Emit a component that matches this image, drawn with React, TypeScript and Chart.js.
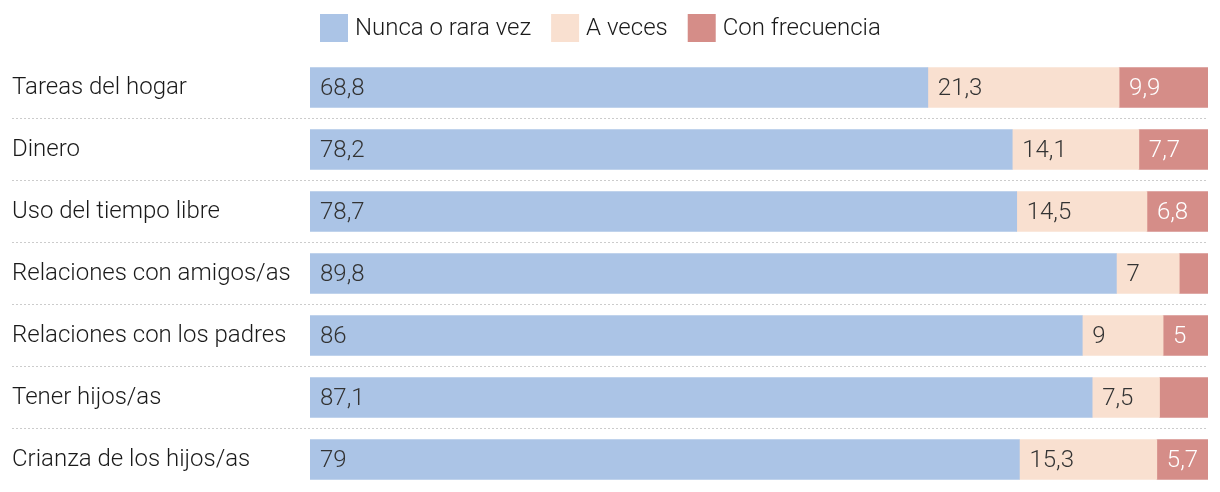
import React, { useEffect, useRef } from "react";
import { Chart, registerables } from "chart.js";

Chart.register(...registerables);

const categories = [
  "Tareas del hogar",
  "Dinero",
  "Uso del tiempo libre",
  "Relaciones con amigos/as",
  "Relaciones con los padres",
  "Tener hijos/as",
  "Crianza de los hijos/as",
];
const seriesNames = ["Nunca o rara vez", "A veces", "Con frecuencia"];
const nunca = [68.8, 78.2, 78.7, 89.8, 86, 87.1, 79];
const aVeces = [21.3, 14.1, 14.5, 7, 9, 7.5, 15.3];
const conFrecuencia = [9.9, 7.7, 6.8, 3.2, 5, 5.4, 5.7];
const frecuenciaLabelShown = [true, true, true, false, true, false, true];

const COLORS = ["#abc4e6", "#f9e0d0", "#d58d88"];
const LABEL_COLORS = ["#333333", "#333333", "#ffffff"];
const FONT = "Roboto";
const FONT_SIZE = 24;
const FONT_WEIGHT = "300";

const fmt = (v: number) => String(v).replace(".", ",");

const separatorPlugin = {
  id: "separators",
  beforeDatasetsDraw(chart: any) {
    const ctx = chart.ctx;
    const y = chart.scales.y;
    const area = chart.chartArea;
    ctx.save();
    ctx.strokeStyle = "#cccccc";
    ctx.lineWidth = 1;
    ctx.setLineDash([2, 2]);
    for (let i = 0; i < categories.length - 1; i++) {
      const yy = Math.floor((y.getPixelForValue(i) + y.getPixelForValue(i + 1)) / 2) + 0.5;
      ctx.beginPath();
      ctx.moveTo(12, yy);
      ctx.lineTo(area.right, yy);
      ctx.stroke();
    }
    ctx.restore();
  },
};

const valueLabelPlugin = {
  id: "valueLabels",
  afterDatasetsDraw(chart: any) {
    const ctx = chart.ctx;
    ctx.save();
    ctx.font = `${FONT_WEIGHT} ${FONT_SIZE}px ${FONT}`;
    ctx.textBaseline = "middle";
    ctx.textAlign = "left";
    chart.data.datasets.forEach((ds: any, di: number) => {
      const meta = chart.getDatasetMeta(di);
      meta.data.forEach((el: any, i: number) => {
        if (di === 2 && !frecuenciaLabelShown[i]) return;
        const v = ds.data[i];
        const left = Math.min(el.x, el.base);
        ctx.fillStyle = LABEL_COLORS[di];
        ctx.fillText(fmt(v), left + 10, el.y + 1);
      });
    });
    ctx.restore();
  },
};

const legendPlugin = {
  id: "customLegend",
  afterDraw(chart: any) {
    const ctx = chart.ctx;
    ctx.save();
    ctx.font = `${FONT_WEIGHT} ${FONT_SIZE}px ${FONT}`;
    ctx.textBaseline = "middle";
    ctx.textAlign = "left";
    const boxW = 28;
    const boxH = 28;
    const gapText = 7;
    const gapItem = 20;
    const widths = seriesNames.map((n) => ctx.measureText(n).width);
    const total = widths.reduce((a, w) => a + boxW + gapText + w, 0) + gapItem * (seriesNames.length - 1);
    let x = Math.round(600 - total / 2);
    const cy = 28;
    seriesNames.forEach((n, i) => {
      ctx.fillStyle = COLORS[i];
      ctx.fillRect(x, cy - boxH / 2, boxW, boxH);
      x += boxW + gapText;
      ctx.fillStyle = "#1a1a1a";
      ctx.fillText(n, x, cy + 1);
      x += widths[i] + gapItem;
    });
    ctx.restore();
  },
};

export default function App() {
  const ref = useRef<HTMLCanvasElement | null>(null);
  useEffect(() => {
    if (!ref.current) return;
    const chart = new Chart(ref.current, {
      type: "bar",
      data: {
        labels: categories,
        datasets: [nunca, aVeces, conFrecuencia].map((d, i) => ({
          label: seriesNames[i],
          data: d,
          backgroundColor: COLORS[i],
          borderWidth: 0,
          barThickness: 40,
        })),
      },
      options: {
        indexAxis: "y",
        animation: false,
        responsive: false,
        layout: { padding: { left: 12, right: 12, top: 56.5, bottom: 1.5 } },
        plugins: {
          legend: { display: false },
          tooltip: { enabled: false },
        },
        scales: {
          x: { stacked: true, min: 0, max: 100, display: false, grid: { display: false } },
          y: {
            stacked: true,
            grid: { display: false },
            border: { display: false },
            ticks: {
              crossAlign: "far",
              padding: 0,
              color: "#1a1a1a",
              font: { family: FONT, size: FONT_SIZE, weight: FONT_WEIGHT as any },
            },
            afterFit(scale: any) {
              scale.width = 298;
              scale.paddingTop = 0;
              scale.paddingBottom = 0;
            },
          },
        },
      },
      plugins: [separatorPlugin, valueLabelPlugin, legendPlugin],
    });
    return () => chart.destroy();
  }, []);
  return (
    <div style={{ position: "fixed", left: 0, top: 0, width: 1220, height: 492, background: "#fff" }}>
      <canvas ref={ref} width={1220} height={492} style={{ display: "block", width: 1220, height: 492 }} />
    </div>
  );
}
